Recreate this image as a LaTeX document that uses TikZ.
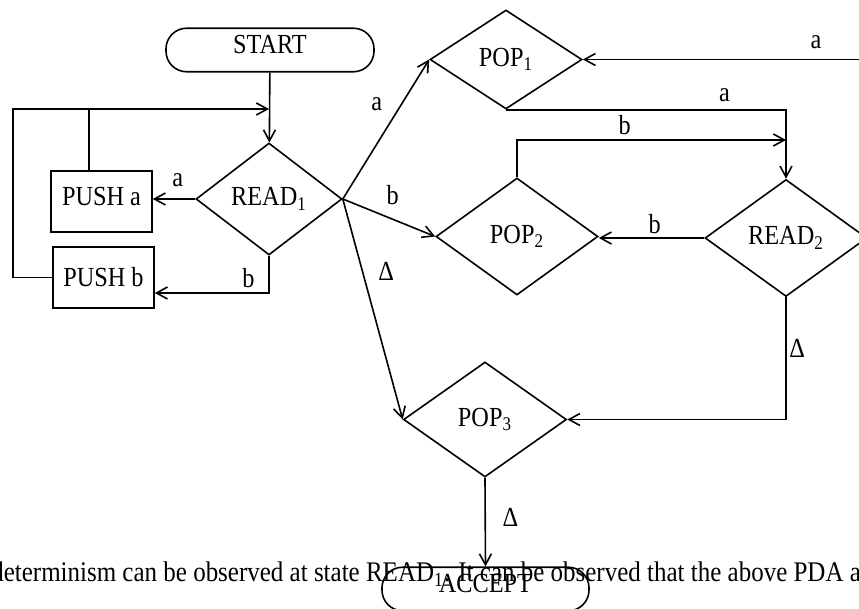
\documentclass[tikz,border=0pt]{standalone}
\usepackage{fontspec}
\setmainfont{Liberation Serif}[FakeStretch=0.88]
\usetikzlibrary{arrows.meta,shapes.geometric}

\begin{document}
\begin{tikzpicture}[x=0.5pt,y=-0.5pt,>={Straight Barb[length=5.5pt,width=6pt]},line width=0.8pt,font=\fontsize{13.8}{16}\selectfont]
\tikzstyle{dec}=[draw,diamond,inner sep=0pt]
\tikzstyle{box}=[draw,rectangle,inner sep=2pt,minimum width=50.5pt,minimum height=30.5pt]
\tikzstyle{term}=[draw,rectangle,rounded corners=10.3pt,minimum width=104pt,minimum height=20.7pt,text height=9.1pt,text depth=6pt]
\tikzstyle{lbl}=[inner sep=1pt]
\clip (0,0) rectangle (859,609);
% states
\node[term] (start) at (270,50) {START};
\node[dec,minimum width=73pt,minimum height=56pt] (read1) at (269,199) {READ\textsubscript{1}};
\node[box,text depth=5.5pt] (pusha) at (101.5,201.5) {PUSH a};
\node[box] (pushb) at (103.5,277.5) {PUSH b};
\node[dec,minimum width=76pt,minimum height=49.5pt] (pop1) at (506,59.5) {POP\textsubscript{1}};
\node[dec,minimum width=81pt,minimum height=58.5pt] (pop2) at (517,236.5) {POP\textsubscript{2}};
\node[dec,minimum width=81pt,minimum height=58.5pt] (read2) at (786,238) {READ\textsubscript{2}};
\node[dec,minimum width=81.5pt,minimum height=57.5pt] (pop3) at (485,419.5) {POP\textsubscript{3}};
\node[term,minimum width=103.5pt] (accept) at (485.5,589) {ACCEPT};
\node[anchor=base west,inner sep=0pt,font=\fontsize{14.2}{16}\selectfont] (note) at (-9.5,582) {determinism can be observed at state READ\textsubscript{1}. It can be observed that the above PDA a};
% loops back to READ1
\coordinate (lp) at (13,109);
\coordinate (jn) at (read1.north |- lp);
\coordinate (j2) at (786,140);
\coordinate (rin) at (880,59.5);
\draw[->] (start)--(read1);
\draw[->] (pushb.west)-|(lp)--(jn);
\draw ([xshift=-6.25pt]pusha.north)--([xshift=-6.25pt]pusha.north |- lp);
\draw[->] (read1.west)--(read1.west -| pusha.east) node[lbl,pos=.41,above=4.5pt]{a};
\draw[->] (read1.south)|-([yshift=-7.75pt]pushb.east) node[lbl,pos=.59,above=1pt]{b};
% out of READ1
\draw[->] (read1.east)--(pop1.west) node[lbl,pos=.68,left=8.3pt]{a};
\draw[->] (read1.east)--(pop2.west) node[lbl,pos=.54,above=6pt]{b};
\draw[->] (read1.east)--(pop3.west) node[lbl,pos=.33,right=6.5pt]{Δ};
% right part
\draw[->] (rin)--(pop1.east) node[lbl,pos=.215,above=4.1pt]{a};
\draw[->] (pop1.south)-|(read2.north) node[lbl,pos=.39,above=2.4pt]{a};
\draw[->] (pop2.north)|-(j2) node[lbl,pos=.7,above=1.3pt]{b};
\draw[->] (read2.west)--(read2.west -| pop2.east) node[lbl,pos=.47,above=0.8pt]{b};
\draw[->] (read2.south)|-(pop3.east) node[lbl,pos=.21,right=0.3pt]{Δ};
\draw[->] (pop3.south)--(accept.north) node[lbl,pos=.45,right=7.3pt]{Δ};
\end{tikzpicture}
\end{document}
